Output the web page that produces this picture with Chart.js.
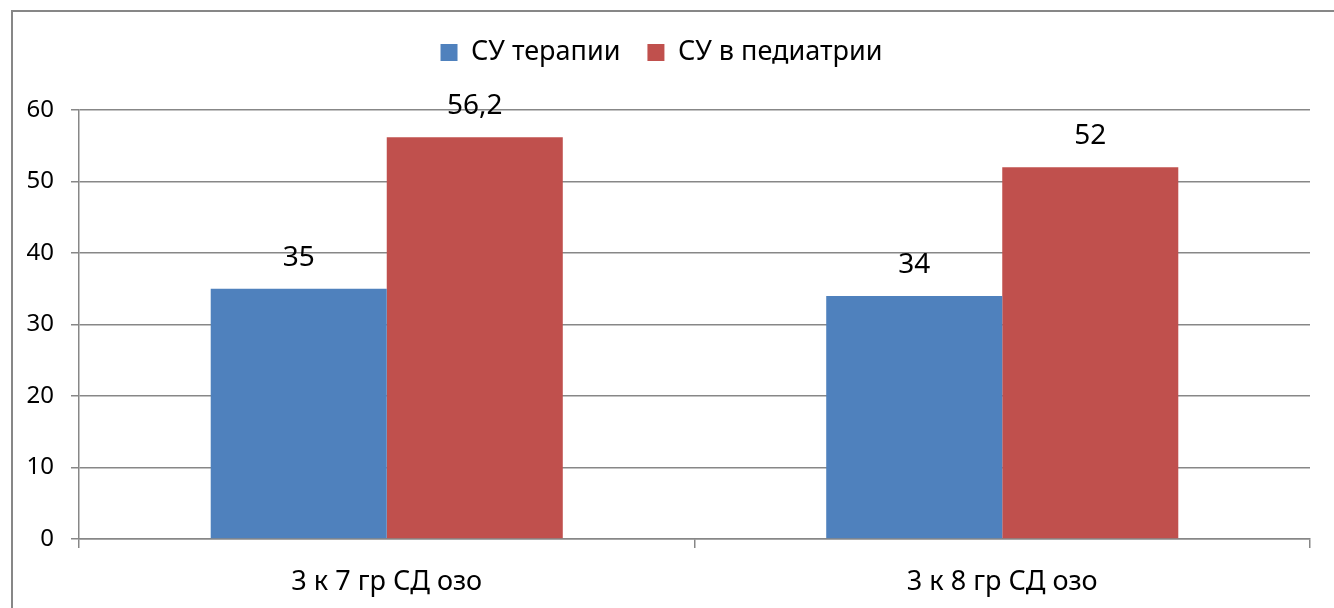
<!DOCTYPE html>
<html>
<head>
<meta charset="utf-8">
<script src="https://cdn.jsdelivr.net/npm/chart.js@4.4.1/dist/chart.umd.min.js"></script>
<style>
    html, body { margin: 0; padding: 0; background: #fff; }
    #frame {
        position: absolute;
        left: 11px;
        top: 10px;
        width: 1321px;
        height: 596px;
        border-left: 2px solid #878787;
        border-top: 2px solid #878787;
    }
    #chart { display: block; }
</style>
</head>
<body>
<div id="frame">
    <canvas id="chart" width="1321" height="596"></canvas>
</div>
<script>
const categories = ['3 к 7 гр СД озо', '3 к 8 гр СД озо'];
const seriesNames = ['СУ терапии', 'СУ в педиатрии'];
const therapyValues = [35, 34];
const pediatricsValues = [56.2, 52];
const yTicks = [0, 10, 20, 30, 40, 50, 60];

const fontFamily = '"Noto Sans", "Open Sans", sans-serif';
const gridColor = '#878787';

// подписи значений над столбцами (с запятой, как в оригинале)
const valueLabels = {
    id: 'valueLabels',
    afterDatasetsDraw(chart) {
        const ctx = chart.ctx;
        ctx.save();
        ctx.fillStyle = '#000';
        ctx.font = '28px ' + fontFamily;
        ctx.textAlign = 'center';
        ctx.textBaseline = 'middle';
        chart.data.datasets.forEach((ds, i) => {
            chart.getDatasetMeta(i).data.forEach((bar, j) => {
                const text = String(ds.data[j]).replace('.', ',');
                ctx.fillText(text, bar.x, bar.y - 31);
            });
        });
        ctx.restore();
    }
};

// легенде нужна фиксированная высота, чтобы область графика начиналась там же
const legendHeight = {
    id: 'legendHeight',
    beforeInit(chart) {
        const origFit = chart.legend.fit;
        chart.legend.fit = function() {
            origFit.bind(chart.legend)();
            this.height = 98;
        };
    }
};

new Chart(document.getElementById('chart'), {
    type: 'bar',
    data: {
        labels: categories,
        datasets: [
            {
                label: seriesNames[0],
                data: therapyValues,
                backgroundColor: '#4F81BD'
            },
            {
                label: seriesNames[1],
                data: pediatricsValues,
                backgroundColor: '#C0504D'
            }
        ]
    },
    options: {
        responsive: false,
        animation: false,
        layout: { padding: { left: 0, right: 24, top: 0, bottom: 0 } },
        datasets: {
            bar: { barPercentage: 1, categoryPercentage: 0.572 }
        },
        plugins: {
            legend: {
                position: 'top',
                labels: {
                    boxWidth: 17,
                    boxHeight: 17,
                    padding: 27,
                    color: '#000',
                    font: { family: fontFamily, size: 27 }
                }
            },
            tooltip: { enabled: false }
        },
        scales: {
            x: {
                afterFit(scale) { scale.height = 69; },
                grid: {
                    offset: true,
                    drawOnChartArea: false,
                    drawTicks: true,
                    tickLength: 9,
                    color: gridColor,
                    lineWidth: 1.5
                },
                border: { color: gridColor, width: 1.5 },
                ticks: {
                    color: '#000',
                    padding: 18,
                    font: { family: fontFamily, size: 27 }
                }
            },
            y: {
                min: 0,
                max: 60,
                afterFit(scale) { scale.width = 66; },
                afterBuildTicks(scale) {
                    scale.ticks = yTicks.map(v => ({ value: v }));
                },
                grid: {
                    color: gridColor,
                    lineWidth: 1.5,
                    tickLength: 8
                },
                border: { color: gridColor, width: 1.5 },
                ticks: {
                    color: '#000',
                    padding: 17,
                    font: { family: fontFamily, size: 24 }
                }
            }
        }
    },
    plugins: [legendHeight, valueLabels]
});
</script>
</body>
</html>
